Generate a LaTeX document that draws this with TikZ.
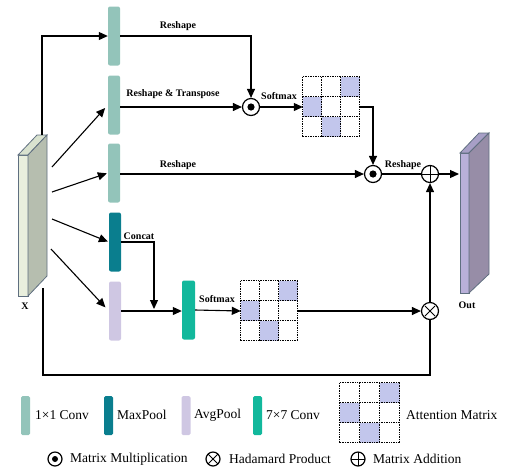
\documentclass[tikz,border=0pt]{standalone}
\usepackage{fontspec}
\setmainfont{Liberation Serif}
\usetikzlibrary{arrows.meta,calc}
\definecolor{convc}{HTML}{93C4BA}
\definecolor{maxc}{HTML}{0A7E8E}
\definecolor{avgc}{HTML}{CFC7E3}
\definecolor{sevc}{HTML}{12B89C}
\definecolor{cellc}{HTML}{C2C6EC}
\definecolor{xfront}{HTML}{E9EFDD}
\definecolor{xtop}{HTML}{D9E2CF}
\definecolor{xside}{HTML}{B6BEAF}
\definecolor{ofront}{HTML}{B9B0D9}
\definecolor{otop}{HTML}{A79FC6}
\definecolor{oside}{HTML}{978DA7}
\definecolor{slabline}{HTML}{5F6F80}
\tikzset{
  bar/.style={rectangle,rounded corners=2pt,minimum width=12pt,minimum height=59pt,inner sep=0pt},
  lgbar/.style={rectangle,rounded corners=1.5pt,minimum width=9pt,minimum height=39pt,inner sep=0pt},
  arr/.style={line width=1.1pt,-{Triangle[length=9pt,width=8pt]}},
  ln/.style={line width=1.1pt},
  lbl/.style={font=\bfseries\fontsize{10}{12}\selectfont,inner sep=1pt},
  lgtxt/.style={font=\fontsize{13.5}{16}\selectfont,inner sep=0pt,anchor=west},
  opc/.style={circle,draw,line width=1.2pt,minimum size=17pt,inner sep=0pt},
  odotn/.style={opc,path picture={\fill (path picture bounding box.center) circle (3.6pt);}},
  otimesn/.style={opc,path picture={\draw[line width=0.8pt] ($(path picture bounding box.center)+(-5pt,-5pt)$)--($(path picture bounding box.center)+(5pt,5pt)$) ($(path picture bounding box.center)+(-5pt,5pt)$)--($(path picture bounding box.center)+(5pt,-5pt)$);}},
  oplusn/.style={opc,path picture={\draw[line width=0.8pt] ($(path picture bounding box.center)+(-9pt,0)$)--($(path picture bounding box.center)+(9pt,0)$) ($(path picture bounding box.center)+(0,-9pt)$)--($(path picture bounding box.center)+(0,9pt)$);}},
  matn/.style={rectangle,inner sep=0pt},
  griddot/.style={densely dotted,line width=0.7pt},
}
\newcommand\attmat[3]{%
  \begin{scope}[shift={(#1.north west)}]
    \fill[cellc] (2*#2,0) rectangle (3*#2,#3);
    \fill[cellc] (0,#3) rectangle (#2,2*#3);
    \fill[cellc] (#2,2*#3) rectangle (2*#2,3*#3);
    \foreach \i in {0,1,2,3}{
      \draw[griddot] (\i*#2,0) -- (\i*#2,3*#3);
      \draw[griddot] (0,\i*#3) -- (3*#2,\i*#3);
    }
  \end{scope}}
\begin{document}
\begin{tikzpicture}[x=1pt,y=-1pt]
\useasboundingbox (0,0) rectangle (510,472);
% X slab
\fill[xfront,draw=slabline,line width=0.8pt] (18,155) -- (28,155) -- (28,296) -- (18,296) -- cycle;
\fill[xtop,draw=slabline,line width=0.8pt] (18,155) -- (37,135) -- (47,135) -- (28,155) -- cycle;
\fill[xside,draw=slabline,line width=0.8pt] (28,155) -- (47,135) -- (47,276) -- (28,296) -- cycle;
\node[font=\bfseries\fontsize{10}{12}\selectfont] (xl) at (25,306) {X};
% Out slab
\fill[ofront,draw=slabline,line width=0.8pt] (460,153) -- (469,153) -- (469,293) -- (460,293) -- cycle;
\fill[otop,draw=slabline,line width=0.8pt] (460,153) -- (479,133) -- (489,133) -- (469,153) -- cycle;
\fill[oside,draw=slabline,line width=0.8pt] (469,153) -- (489,133) -- (489,274) -- (469,293) -- cycle;
\node[font=\bfseries\fontsize{10}{12}\selectfont] (ol) at (467,305) {Out};
\coordinate (outin) at (459,174);
% X outlets
\coordinate (xa) at (42,135);
\coordinate (xb) at (52,167);
\coordinate (xc) at (52,192);
\coordinate (xd) at (52,219);
\coordinate (xe) at (51,249);
\coordinate (xf) at (43,288);
% bars
\node[bar,fill=convc] (b1) at (114,36) {};
\node[bar,fill=convc] (b2) at (114,105) {};
\node[bar,fill=convc] (b3) at (114,173) {};
\node[bar,fill=maxc] (b4) at (115,242) {};
\node[bar,fill=avgc] (b5) at (115,311) {};
\node[bar,fill=sevc,minimum width=13pt] (b6) at (188.5,310) {};
% matrices
\node[matn,minimum width=57pt,minimum height=60pt] (mat1) at (331.5,107) {};
\attmat{mat1}{19}{20}
\node[matn,minimum width=57pt,minimum height=60pt] (mat2) at (269.5,311) {};
\attmat{mat2}{19}{20}
% operators
\node[odotn] (m1) at (251,107) {};
\node[odotn] (m2) at (373,174) {};
\node[oplusn] (a1) at (430,174) {};
\node[otimesn] (h1) at (430,311) {};
\coordinate (lb) at (430,375);
\coordinate (cj) at (154,311);
% connectors
\draw[arr] (xa) |- (b1.west);
\draw[arr,shorten >=4pt] (xb) -- (b2.west);
\draw[arr,shorten >=1pt] (xc) -- (b3.west);
\draw[arr,shorten >=1pt] (xd) -- (b4.west);
\draw[arr,shorten >=5pt] (xe) -- (b5.west);
\draw[arr] (b1.east) -| (m1.north);
\draw[arr] (b2.east |- m1.west) -- (m1.west);
\draw[arr] (m1.east) -- (mat1.west);
\draw[arr] (mat1.east) -| (m2.north);
\draw[arr] (b3.east |- m2.west) -- (m2.west);
\draw[ln] (m2.east) -- (a1.west);
\draw[arr] (a1.east) -- (outin);
\draw[arr] (h1.north) -- (a1.south);
\draw[ln] (xf) |- (lb) -- (h1.south);
\draw[arr] (mat2.east) -- (h1.west);
\draw[arr,shorten >=2pt] (b4.east) -| (cj);
\draw[arr] (b5.east) -- (b6.west |- b5.east);
\draw[arr] (b6.east) -- (mat2.west);
% labels
\node[lbl] (t1) at (178,26) {Reshape};
\node[lbl] (t2) at (173,94) {Reshape \& Transpose};
\node[lbl] (t3) at (279,96) {Softmax};
\node[lbl] (t4) at (178,165) {Reshape};
\node[lbl] (t5) at (403,165) {Reshape};
\node[lbl] (t6) at (139,236) {Concat};
\node[lbl] (t7) at (217,299) {Softmax};
% legend
\node[lgbar,fill=convc] (lg1) at (25.5,415.5) {};
\node[lgtxt] (lt1) at (35,415) {1\texttimes1 Conv};
\node[lgbar,fill=maxc] (lg2) at (108.5,415.5) {};
\node[lgtxt] (lt2) at (117,415) {MaxPool};
\node[lgbar,fill=avgc] (lg3) at (186,415.5) {};
\node[lgtxt] (lt3) at (194,415) {AvgPool};
\node[lgbar,fill=sevc] (lg4) at (257.5,415.5) {};
\node[lgtxt] (lt4) at (266,415) {7\texttimes7 Conv};
\node[matn,minimum width=60pt,minimum height=60pt] (lgm) at (370,413) {};
\attmat{lgm}{20}{20}
\node[lgtxt] (lt5) at (406,415) {Attention Matrix};
\node[odotn,minimum size=14pt,path picture={\fill (path picture bounding box.center) circle (3pt);}] (lo1) at (55,459) {};
\node[lgtxt] (lt6) at (70,459) {Matrix Multiplication};
\node[otimesn,minimum size=14pt] (lo2) at (213,459) {};
\node[lgtxt] (lt7) at (229,459) {Hadamard Product};
\node[oplusn,minimum size=14pt] (lo3) at (358,459) {};
\node[lgtxt] (lt8) at (373,459) {Matrix Addition};
\end{tikzpicture}
\end{document}
